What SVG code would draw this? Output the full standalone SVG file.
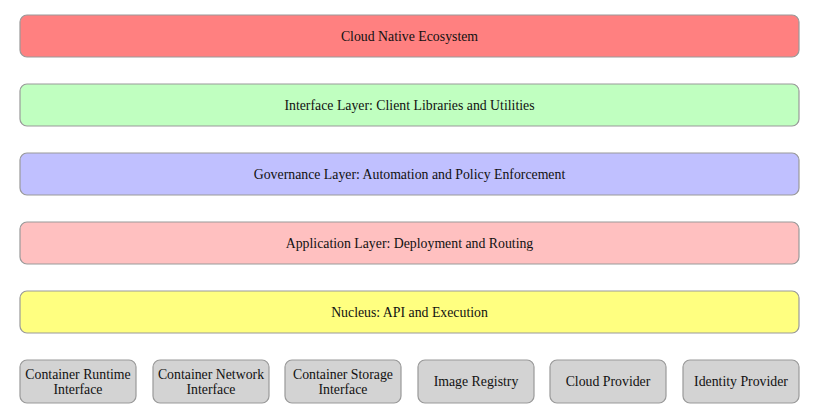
<svg xmlns="http://www.w3.org/2000/svg" width="813" height="411" viewBox="0 0 813 411">
<style>
rect{stroke:#999;stroke-width:1.2}
text{font-family:"Liberation Serif","Times New Roman",serif;font-size:13.8px;fill:#111;text-anchor:middle;dominant-baseline:central}
.g{fill:#d3d3d3}
</style>
<rect width="813" height="411" fill="#fff" style="stroke:none"/>
<g id="connectors"></g>
<g id="ecosystem"><rect x="20" y="15" width="779" height="42" rx="7" fill="#ff8080"/><text x="409.5" y="36">Cloud Native Ecosystem</text></g>
<g id="interface"><rect x="20" y="84" width="779" height="42" rx="7" fill="#c0ffc0"/><text x="409.5" y="105">Interface Layer: Client Libraries and Utilities</text></g>
<g id="governance"><rect x="20" y="153" width="779" height="42" rx="7" fill="#c0c0ff"/><text x="409.5" y="174">Governance Layer: Automation and Policy Enforcement</text></g>
<g id="application"><rect x="20" y="222" width="779" height="42" rx="7" fill="#ffc0c0"/><text x="409.5" y="243">Application Layer: Deployment and Routing</text></g>
<g id="nucleus"><rect x="20" y="291" width="779" height="42" rx="7" fill="#ffff80"/><text x="409.5" y="312">Nucleus: API and Execution</text></g>
<g id="cri"><rect class="g" x="20" y="360" width="116" height="43" rx="7"/><text x="78" y="374">Container Runtime</text><text x="78" y="389">Interface</text></g>
<g id="cni"><rect class="g" x="153" y="360" width="116" height="43" rx="7"/><text x="211" y="374">Container Network</text><text x="211" y="389">Interface</text></g>
<g id="csi"><rect class="g" x="285" y="360" width="116" height="43" rx="7"/><text x="343" y="374">Container Storage</text><text x="343" y="389">Interface</text></g>
<g id="registry"><rect class="g" x="418" y="360" width="116" height="43" rx="7"/><text x="476" y="381.5">Image Registry</text></g>
<g id="cloud"><rect class="g" x="550" y="360" width="116" height="43" rx="7"/><text x="608" y="381.5">Cloud Provider</text></g>
<g id="identity"><rect class="g" x="683" y="360" width="116" height="43" rx="7"/><text x="741" y="381.5">Identity Provider</text></g>
</svg>
